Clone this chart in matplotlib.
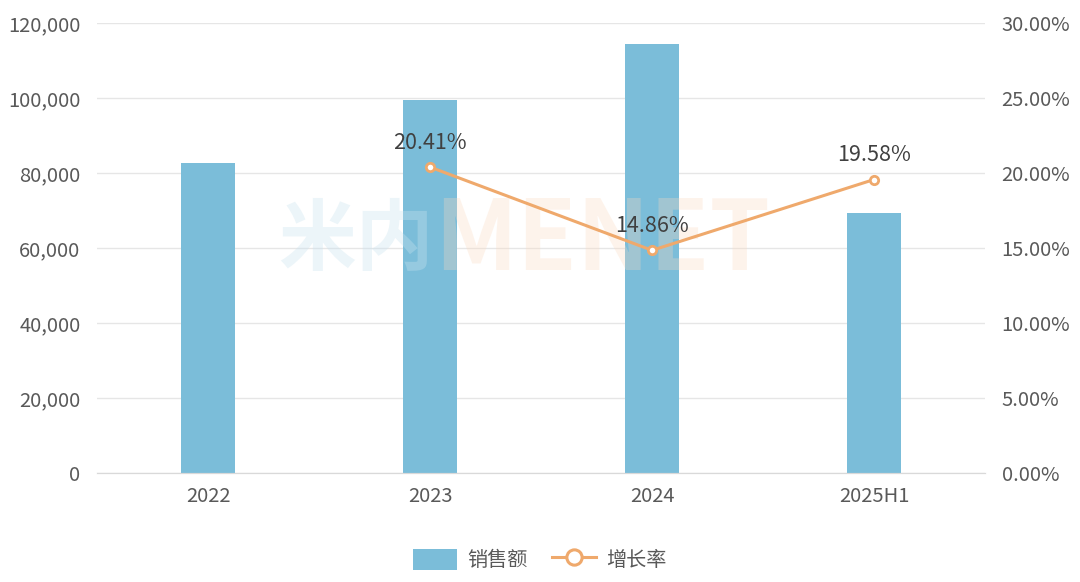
import matplotlib.pyplot as plt
from matplotlib.ticker import FuncFormatter
from matplotlib.lines import Line2D
from matplotlib.patches import Patch

plt.rcParams['font.family'] = ['Noto Sans CJK SC', 'DejaVu Sans']

# 数据
anos = ['2022', '2023', '2024', '2025H1']
vendas = [82800, 99600, 114500, 69400]
cresc_x = ['2023', '2024', '2025H1']
cresc = [20.41, 14.86, 19.58]

cor_barra = '#7bbdd9'
cor_linha = '#efa96c'
cor_texto = '#595959'

fig = plt.figure(figsize=(10.8, 5.82), dpi=100)
ax = fig.add_axes([0.09, 0.187, 0.822, 0.773])
ax2 = ax.twinx()

x = list(range(len(anos)))
ax.bar(x, vendas, width=0.245, color=cor_barra, zorder=2)
ax.set_xlim(-0.5, len(anos) - 0.5)
ax.set_ylim(0, 120000)
ax.set_yticks(range(0, 120001, 20000))
ax.yaxis.set_major_formatter(FuncFormatter(lambda v, p: f'{int(v):,}'))
ax.set_xticks(x)
ax.set_xticklabels(anos)
ax.grid(axis='y', color='#e6e6e6', linewidth=1, zorder=0)
ax.set_axisbelow(True)

# marca d'água (atrás da linha e dos rótulos)
ax2.text(0.258, 0.585, '米内', transform=fig.transFigure, fontsize=56, fontweight='bold',
         color='#c9e3ef', alpha=0.35, ha='left', va='center', zorder=1)
ax2.text(0.402, 0.585, 'MENET', transform=fig.transFigure, fontsize=70, fontweight='bold',
         color='#fbd9bf', alpha=0.3, ha='left', va='center', zorder=1)

# linha de crescimento
xi = [anos.index(a) for a in cresc_x]
ax2.plot(xi, cresc, color=cor_linha, linewidth=2.2, marker='o', markersize=6,
         markerfacecolor='white', markeredgecolor=cor_linha, markeredgewidth=2, zorder=4)
for xx, v in zip(xi, cresc):
    ax2.text(xx, v + 0.9, f'{v:.2f}%', ha='center', va='bottom', fontsize=15.5,
             color='#404040', zorder=5)
ax2.set_ylim(0, 30)
ax2.set_yticks([0, 5, 10, 15, 20, 25, 30])
ax2.yaxis.set_major_formatter(FuncFormatter(lambda v, p: f'{v:.2f}%'))

for a in (ax, ax2):
    for s in ['top', 'left', 'right']:
        a.spines[s].set_visible(False)
    a.spines['bottom'].set_color('#d9d9d9')
    a.tick_params(length=0, labelsize=14.5, labelcolor=cor_texto)
ax.tick_params(axis='y', pad=12)
ax2.tick_params(axis='y', pad=12)
ax.tick_params(axis='x', pad=9)

# legenda
handles = [Patch(facecolor=cor_barra, edgecolor='none'),
           Line2D([0], [0], color=cor_linha, linewidth=2.2, marker='o', markersize=11,
                  markerfacecolor='white', markeredgecolor=cor_linha, markeredgewidth=2.2)]
fig.legend(handles, ['销售额', '增长率'], loc='center', bbox_to_anchor=(0.5, 0.038),
           ncol=2, frameon=False, fontsize=14.5, labelcolor=cor_texto,
           handlelength=2.2, handleheight=1.3, columnspacing=1.2, handletextpad=0.5)

fig.savefig('out.png', dpi=100)
